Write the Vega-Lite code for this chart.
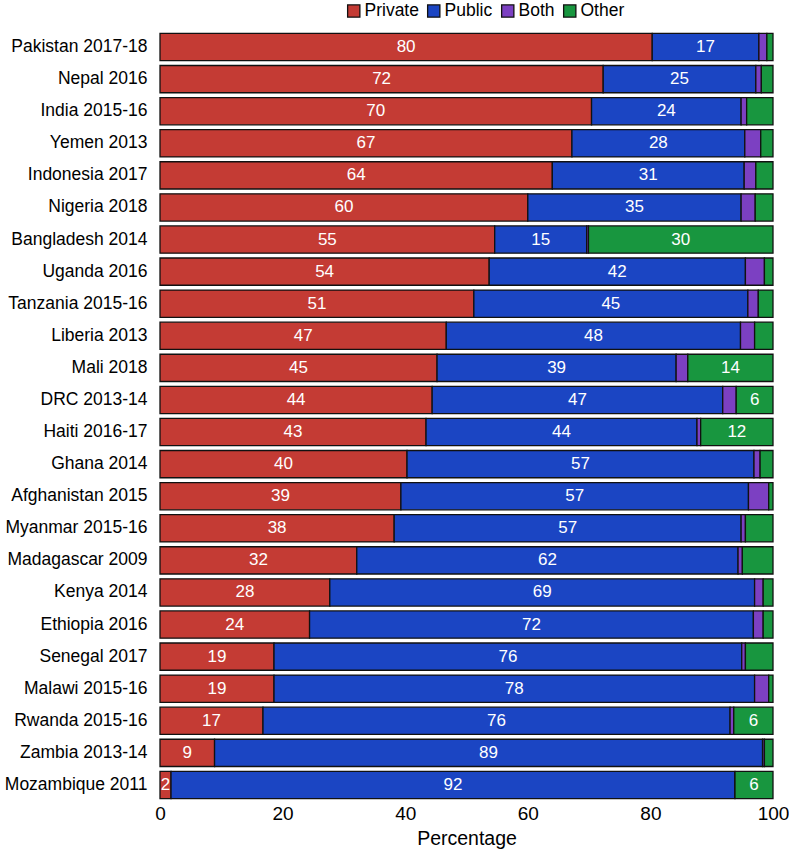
{
  "$schema": "https://vega.github.io/schema/vega-lite/v6.json",
  "width": 613,
  "height": 770,
  "autosize": {"type": "none"},
  "padding": {"left": 160, "top": 31, "right": 16, "bottom": 52},
  "background": "white",
  "config": {
    "font": "Liberation Sans",
    "view": {"stroke": null}
  },
  "data": {
    "values": [
      {"country": "Pakistan 2017-18", "Private": 80.3, "Public": 17.4, "Both": 1.3, "Other": 1.0},
      {"country": "Nepal 2016", "Private": 72.3, "Public": 24.9, "Both": 0.9, "Other": 1.9},
      {"country": "India 2015-16", "Private": 70.4, "Public": 24.4, "Both": 0.9, "Other": 4.3},
      {"country": "Yemen 2013", "Private": 67.2, "Public": 28.2, "Both": 2.6, "Other": 2.0},
      {"country": "Indonesia 2017", "Private": 64.0, "Public": 31.3, "Both": 1.9, "Other": 2.8},
      {"country": "Nigeria 2018", "Private": 60.0, "Public": 34.8, "Both": 2.3, "Other": 2.9},
      {"country": "Bangladesh 2014", "Private": 54.6, "Public": 15.0, "Both": 0.3, "Other": 30.1},
      {"country": "Uganda 2016", "Private": 53.7, "Public": 41.8, "Both": 3.1, "Other": 1.4},
      {"country": "Tanzania 2015-16", "Private": 51.2, "Public": 44.7, "Both": 1.7, "Other": 2.4},
      {"country": "Liberia 2013", "Private": 46.7, "Public": 48.0, "Both": 2.3, "Other": 3.0},
      {"country": "Mali 2018", "Private": 45.2, "Public": 39.0, "Both": 1.9, "Other": 13.9},
      {"country": "DRC 2013-14", "Private": 44.4, "Public": 47.4, "Both": 2.2, "Other": 6.0},
      {"country": "Haiti 2016-17", "Private": 43.4, "Public": 44.2, "Both": 0.6, "Other": 11.8},
      {"country": "Ghana 2014", "Private": 40.3, "Public": 56.6, "Both": 1.0, "Other": 2.1},
      {"country": "Afghanistan 2015", "Private": 39.3, "Public": 56.7, "Both": 3.3, "Other": 0.7},
      {"country": "Myanmar 2015-16", "Private": 38.2, "Public": 56.6, "Both": 0.7, "Other": 4.5},
      {"country": "Madagascar 2009", "Private": 32.1, "Public": 62.2, "Both": 0.7, "Other": 5.0},
      {"country": "Kenya 2014", "Private": 27.7, "Public": 69.3, "Both": 1.4, "Other": 1.6},
      {"country": "Ethiopia 2016", "Private": 24.4, "Public": 72.4, "Both": 1.6, "Other": 1.6},
      {"country": "Senegal 2017", "Private": 18.6, "Public": 76.3, "Both": 0.6, "Other": 4.5},
      {"country": "Malawi 2015-16", "Private": 18.6, "Public": 78.4, "Both": 2.3, "Other": 0.7},
      {"country": "Rwanda 2015-16", "Private": 16.8, "Public": 76.2, "Both": 0.6, "Other": 6.4},
      {"country": "Zambia 2013-14", "Private": 8.9, "Public": 89.4, "Both": 0.3, "Other": 1.4},
      {"country": "Mozambique 2011", "Private": 1.8, "Public": 92.0, "Both": 0.0, "Other": 6.2}
    ]
  },
  "transform": [
    {"fold": ["Private", "Public", "Both", "Other"], "as": ["type", "value"]},
    {"calculate": "indexof(['Private','Public','Both','Other'], datum.type)", "as": "ord"},
    {"stack": "value", "groupby": ["country"], "sort": [{"field": "ord", "order": "ascending"}], "as": ["v0", "v1"]},
    {"calculate": "(datum.v0 + datum.v1) / 2", "as": "mid"}
  ],
  "encoding": {
    "y": {
      "field": "country",
      "type": "nominal",
      "sort": null,
      "scale": {"paddingInner": 0.15, "paddingOuter": 0.075},
      "axis": {
        "title": null,
        "ticks": false,
        "domain": false,
        "labelFontSize": 17.5,
        "labelColor": "black",
        "labelPadding": 13
      }
    }
  },
  "layer": [
    {
      "mark": {"type": "bar", "stroke": "#111111", "strokeWidth": 1.3},
      "encoding": {
        "x": {
          "field": "v0",
          "type": "quantitative",
          "scale": {"domain": [0, 100], "nice": false},
          "axis": {
            "title": "Percentage",
            "titleFontSize": 19.5,
            "titleFontWeight": "normal",
            "titleColor": "black",
            "titlePadding": 6,
            "labelFontSize": 19,
            "labelColor": "black",
            "labelPadding": 3,
            "values": [0, 20, 40, 60, 80, 100],
            "ticks": false,
            "domain": false,
            "grid": false,
            "labelFlush": false
          }
        },
        "x2": {"field": "v1"},
        "color": {
          "field": "type",
          "type": "nominal",
          "sort": ["Private", "Public", "Both", "Other"],
          "scale": {
            "domain": ["Private", "Public", "Both", "Other"],
            "range": ["#c43b34", "#1b45c3", "#7c40c2", "#18963f"]
          },
          "legend": {
            "title": null,
            "orient": "none",
            "legendX": 185,
            "legendY": -29,
            "direction": "horizontal",
            "symbolType": "square",
            "symbolSize": 150,
            "symbolStrokeColor": "#111111",
            "symbolStrokeWidth": 1.3,
            "symbolOpacity": 1,
            "labelFontSize": 17.5,
            "labelColor": "black",
            "labelOffset": 2,
            "columnPadding": 6
          }
        }
      }
    },
    {
      "transform": [
        {"filter": "datum.type != 'Both' && (datum.type != 'Other' || datum.value >= 5.5)"}
      ],
      "mark": {"type": "text", "color": "white", "fontSize": 17, "baseline": "middle", "align": "center"},
      "encoding": {
        "x": {"field": "mid", "type": "quantitative"},
        "text": {"field": "value", "type": "quantitative", "format": ".0f"}
      }
    }
  ]
}
